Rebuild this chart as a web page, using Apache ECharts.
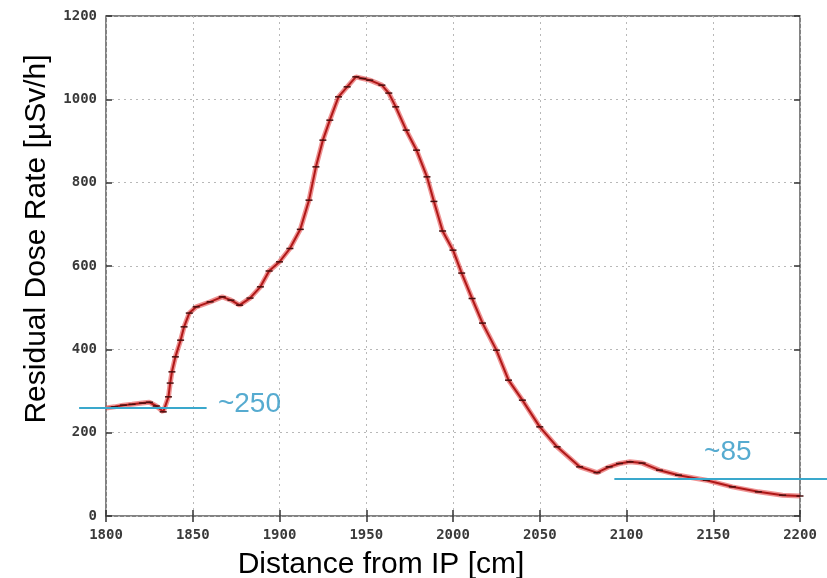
<!DOCTYPE html>
<html>
<head>
<meta charset="utf-8">
<script src="https://cdn.jsdelivr.net/npm/echarts@6/dist/echarts.min.js"></script>
<style>
html,body{margin:0;padding:0;background:#fff;}
#chart{width:827px;height:578px;}
</style>
</head>
<body>
<div id="chart"></div>
<script>
// ---- data ----
var distance = [1800,1805,1810,1815,1821,1825,1829,1833,1836,1837,1838,1840,1843,1845,1848,1852,1860,1867,1872,1877,1883,1889,1894,1900,1906,1912,1917,1921,1925,1929,1934,1939,1944,1948,1952,1959,1963,1967,1973,1979,1985,1989,1994,2000,2005,2011,2017,2025,2032,2040,2050,2060,2073,2083,2090,2096,2102,2109,2119,2130,2146,2161,2176,2190,2200];
var doseRate = [259,262,266,268,271,273,264,250,286,319,346,382,422,454,487,502,514,526,518,506,523,550,588,610,642,688,758,838,902,950,1006,1030,1054,1050,1046,1034,1015,982,926,878,814,755,684,638,583,522,463,398,326,278,214,166,118,104,118,126,130,127,110,98,86,70,58,50,48];
var xTicks = [1800,1850,1900,1950,2000,2050,2100,2150,2200];
var yTicks = [0,200,400,600,800,1000,1200];
var annLowText = '~250';
var annLowLevel = 259;
var annHighText = '~85';
var annHighLevel = 89;
var xAxisTitle = 'Distance from IP [cm]';
var yAxisTitle = 'Residual Dose Rate [\u00b5Sv/h]';

// ---- annotation placement (data space) ----
var annLowSpan = [1784.5, 1858];
var annLowLabelAt = [1864.5, 268];
var annHighSpan = [2093, 2216];
var annHighLabelAt = [2144.7, 152];

var pts = distance.map(function(d,i){return [d, doseRate[i]];});
var annColor = '#3aa8cc';
var tickFont = {fontFamily:'DejaVu Sans Mono', fontWeight:'bold', fontSize:14, color:'#3a3a3a', formatter:function(v){return String(v);}};

var chart = echarts.init(document.getElementById('chart'), null, {renderer:'canvas'});
chart.setOption({
  animation:false,
  backgroundColor:'#ffffff',
  grid:{left:106, right:27, top:16, bottom:62, show:true, borderColor:'#5a5a5a', borderWidth:1.5, backgroundColor:'transparent'},
  xAxis:[{
    type:'value', min:xTicks[0], max:xTicks[xTicks.length-1], interval:50,
    axisLine:{show:false},
    axisTick:{show:true, inside:true, length:6, lineStyle:{color:'#333', width:1.5}},
    axisLabel:Object.assign({margin:12}, tickFont),
    splitLine:{show:true, lineStyle:{color:'#b8b8b8', type:[2,4], width:1}}
  },{
    type:'value', position:'top', min:xTicks[0], max:xTicks[xTicks.length-1], interval:50,
    axisLine:{show:false},
    axisTick:{show:true, inside:true, length:6, lineStyle:{color:'#333', width:1.5}},
    axisLabel:{show:false}, splitLine:{show:false}
  }],
  yAxis:[{
    type:'value', min:yTicks[0], max:yTicks[yTicks.length-1], interval:200,
    axisLine:{show:false},
    axisTick:{show:true, inside:true, length:6, lineStyle:{color:'#333', width:1.5}},
    axisLabel:Object.assign({margin:9}, tickFont),
    splitLine:{show:true, lineStyle:{color:'#b8b8b8', type:[2,4], width:1}}
  },{
    type:'value', position:'right', min:yTicks[0], max:yTicks[yTicks.length-1], interval:200,
    axisLine:{show:false},
    axisTick:{show:true, inside:true, length:6, lineStyle:{color:'#333', width:1.5}},
    axisLabel:{show:false}, splitLine:{show:false}
  }],
  series:[
    {
      type:'line', data:pts, smooth:false,
      lineStyle:{color:'#e23a3a', width:5, opacity:0.55},
      symbol:'none', silent:true, z:3
    },
    {
      type:'line', data:pts, smooth:false,
      lineStyle:{color:'#b01818', width:2},
      showSymbol:true, symbol:'rect', symbolSize:[7,1.5],
      itemStyle:{color:'#4a1010'}, silent:true, z:4
    },
    {
      type:'scatter', symbolSize:0, silent:true, z:6,
      data:[
        {value:annLowLabelAt, label:{formatter:annLowText}},
        {value:annHighLabelAt, label:{formatter:annHighText}}
      ],
      label:{show:true, position:'right', distance:0, fontFamily:'Liberation Sans, Arial, sans-serif', fontSize:28, color:'#2c96c4'}
    }
  ],
  graphic:[
    {type:'text', x:381, y:565, style:{text:xAxisTitle, font:'30px "Liberation Sans", Arial, sans-serif', fill:'#000', textAlign:'center', textVerticalAlign:'middle'}},
    {type:'text', x:37, y:239, rotation:Math.PI/2, style:{text:yAxisTitle, font:'30px "Liberation Sans", Arial, sans-serif', fill:'#000', textAlign:'center', textVerticalAlign:'middle'}}
  ]
});

// Reference lines that run past the plot frame: map data -> pixel via the axes
// (linear extrapolation from the library's own conversion of the axis ends).
var p0 = chart.convertToPixel({gridIndex:0}, [xTicks[0], yTicks[0]]);
var p1 = chart.convertToPixel({gridIndex:0}, [xTicks[xTicks.length-1], yTicks[yTicks.length-1]]);
function toPx(x, y){
  var fx = (x - xTicks[0]) / (xTicks[xTicks.length-1] - xTicks[0]);
  var fy = (y - yTicks[0]) / (yTicks[yTicks.length-1] - yTicks[0]);
  return [p0[0] + fx*(p1[0]-p0[0]), p0[1] + fy*(p1[1]-p0[1])];
}
function refLine(span, level){
  var a = toPx(span[0], level), b = toPx(span[1], level);
  return {type:'line', z:100, silent:true, shape:{x1:a[0], y1:a[1], x2:b[0], y2:b[1]}, style:{stroke:annColor, lineWidth:2}};
}
chart.setOption({graphic:[
  {type:'text', x:381, y:565, style:{text:xAxisTitle, font:'30px "Liberation Sans", Arial, sans-serif', fill:'#000', textAlign:'center', textVerticalAlign:'middle'}},
  {type:'text', x:37, y:239, rotation:Math.PI/2, style:{text:yAxisTitle, font:'30px "Liberation Sans", Arial, sans-serif', fill:'#000', textAlign:'center', textVerticalAlign:'middle'}},
  refLine(annLowSpan, annLowLevel),
  refLine(annHighSpan, annHighLevel)
]}, {replaceMerge:['graphic']});
</script>
</body>
</html>
